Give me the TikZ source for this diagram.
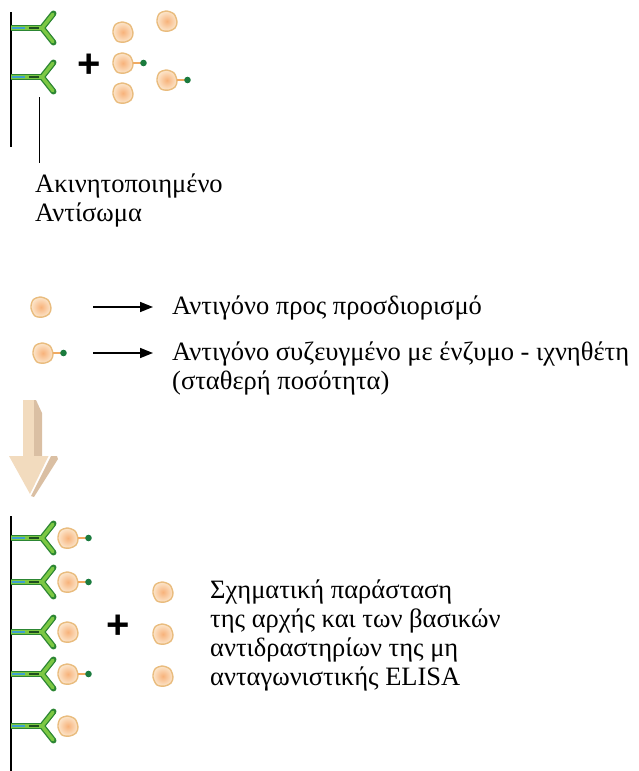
\documentclass[tikz,border=0pt]{standalone}
\usepackage{fontspec}
\setmainfont{Liberation Serif}
\newfontfamily\plusfont{Liberation Sans}
\usetikzlibrary{arrows.meta}

\definecolor{abdark}{HTML}{2C8633}
\definecolor{ablight}{HTML}{7CC843}
\definecolor{abblue}{HTML}{3E9FD0}
\definecolor{abband}{HTML}{1F4F20}
\definecolor{agcore}{HTML}{F7B27A}
\definecolor{agrim}{HTML}{FCE6CC}
\definecolor{agedge}{HTML}{E9BC7E}
\definecolor{tagline}{HTML}{F0AA62}
\definecolor{tagdot}{HTML}{1B7B3E}
\definecolor{arrowfront}{HTML}{F2DBBE}
\definecolor{arrowside}{HTML}{DABFA3}

\tikzset{
  % Y shaped antibody, origin at the hinge, stem pointing left
  antibody/.pic={
    \draw[abdark, line width=6] (-31,0) -- (-1,0);
    \draw[abdark, line width=6, line cap=round, line join=round] (11.5,-14.5) -- (0,0) -- (11.5,14.5);
    \draw[ablight, line width=3.4] (-31,0) -- (0,0);
    \draw[ablight, line width=3.4, line cap=round, line join=round] (11,-13.8) -- (0,0) -- (11,13.8);
    \draw[abblue, line width=2.6] (-30,0) -- (-17,0);
    \draw[abband, line width=2.6] (-13,0) -- (-3,0);
  },
  antigen/.pic={
    \draw[agedge, line width=1.4, inner color=agcore, outer color=agrim]
      plot[smooth cycle] coordinates {(10,1) (7,-7) (-1,-10) (-8,-7) (-10,1) (-6,9) (2,10) (8,7)};
  },
  tagged antigen/.pic={
    \pic {antigen};
    \draw[tagline, line width=1.6] (10,0) -- (19,0);
    \fill[tagdot] (20.5,0) circle (3.3);
  },
}

\begin{document}
\begin{tikzpicture}[x=1pt, y=-1pt,
  every node/.style={inner sep=0pt, font=\fontsize{26.5}{28.8}\selectfont},
  label text/.style={anchor=base west, align=left},
  plus sign/.style={font=\plusfont\bfseries\fontsize{40}{40}\selectfont},
  wall/.style={line width=2.8, black},
  legarrow/.style={line width=1.6, -{Triangle[length=13pt, width=10pt]}},
]
\useasboundingbox (0,0) rectangle (639,771);

% --- before: bound antibodies and free antigens
\draw[wall] (11,12) -- (11,147);
\pic at (42,28) {antibody};
\pic at (42,77) {antibody};
\node[plus sign] (plusA) at (89,66) {+};
\pic at (123,32) {antigen};
\pic at (167,21) {antigen};
\pic at (123,63) {tagged antigen};
\pic at (123,93) {antigen};
\pic at (167,80) {tagged antigen};

\coordinate (ptrA) at (39,97);
\coordinate (ptrB) at (39,163);
\draw[line width=0.9] (ptrA) -- (ptrB);
% base anchor sits on the last line
\node[label text] (immob) at (35,221) {Ακινητοποιημένο\\Αντίσωμα};

% --- legend
\pic at (41,307) {antigen};
\coordinate (legA1) at (93,307);
\coordinate (legB1) at (153,307);
\draw[legarrow] (legA1) -- (legB1);
\node[label text] (leg1) at (172,314) {Αντιγόνο προς προσδιορισμό};

\pic at (43,353) {tagged antigen};
\coordinate (legA2) at (93,353);
\coordinate (legB2) at (153,353);
\draw[legarrow] (legA2) -- (legB2);
\node[label text] (leg2) at (172,389) {Αντιγόνο συζευγμένο με ένζυμο - ιχνηθέτη\\(σταθερή ποσότητα)};

% --- big down arrow
\fill[arrowfront] (23,400) rectangle (34,456);
\fill[arrowside] (34,400) -- (36,400) -- (42,413) -- (42,456) -- (34,456) -- cycle;
\fill[arrowfront] (9,456) -- (48.5,456) -- (30,494) -- cycle;
\fill[arrowside] (51,456) -- (57,456) -- (58,459) -- (34,497) -- (31,496) -- cycle;

% --- after: competition on the surface
\draw[wall] (11,516) -- (11,771);
\foreach \y/\kind in {538/tagged antigen, 582/tagged antigen, 632/antigen, 674/tagged antigen, 726/antigen} {
  \pic at (42,\y) {antibody};
  \pic at (68,\y) {\kind};
}
\node[plus sign] (plusB) at (118,627) {+};
\foreach \y in {592,634,676}
  \pic at (163,\y) {antigen};

\node[label text] (caption) at (210,685) {Σχηματική παράσταση\\της αρχής και των βασικών\\αντιδραστηρίων της μη\\ανταγωνιστικής ELISA};
\end{tikzpicture}
\end{document}
